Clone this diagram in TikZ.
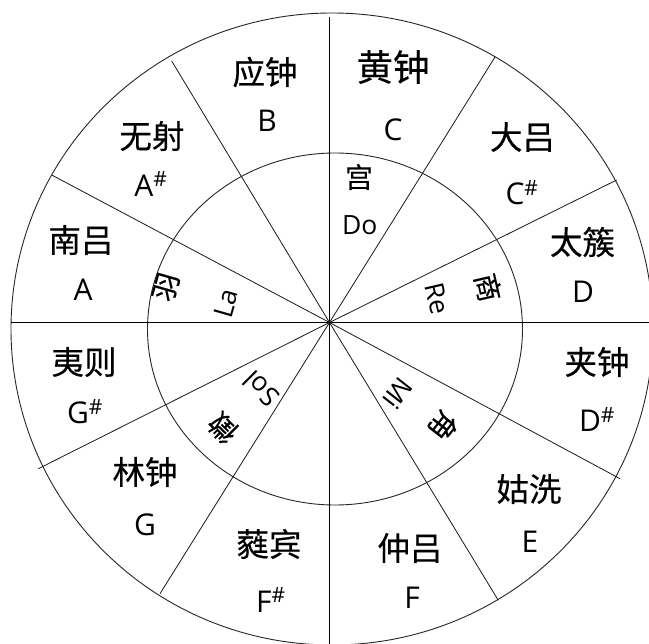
\documentclass[tikz,border=0pt]{standalone}
\usepackage{fontspec}
\setmainfont{Open Sans}
\newfontfamily\cjk{Noto Sans CJK SC}[FakeBold=0.4]
\begin{document}
\begin{tikzpicture}[x=1pt,y=-1pt,
  ring/.style={draw=black!85, line width=0.9pt},
  axis/.style={draw=black, line width=1.2pt},
  spoke/.style={draw=black!90, line width=0.8pt},
  big/.style={inner sep=0pt, font=\cjk\fontsize{32.5}{34}\selectfont},
  huge/.style={inner sep=0pt, font=\cjk\fontsize{36.5}{38}\selectfont},
  note/.style={inner sep=0pt, font=\fontsize{30}{31}\selectfont},
  tone/.style={inner sep=0pt, font=\cjk\fontsize{28}{29}\selectfont},
  solf/.style={inner sep=0pt, font=\fontsize{26.5}{27}\selectfont}]
\newcommand\shp{\textsuperscript{\#}}
\useasboundingbox (0,0) rectangle (649,644);
\clip (0,0) rectangle (649,644);
% centre and ends
\coordinate (O) at (329.5,322.5);
\coordinate (Ot) at (329.5,17);
\coordinate (Ob) at (329.5,644);
\coordinate (Ol) at (11,322.5);
\coordinate (Or) at (649,322.5);
\coordinate (E1) at (495,57);
\coordinate (E2) at (616.7,180);
\coordinate (E3) at (620,478.7);
\coordinate (E4) at (498.3,600.3);
\coordinate (E5) at (160,593.7);
\coordinate (E6) at (38.3,468.7);
\coordinate (E7) at (51.7,175);
\coordinate (E8) at (171.7,61);
% circles
\draw[ring] (332,329) ellipse [x radius=321, y radius=316];
\draw[ring] (335,329) ellipse [x radius=187.5, y radius=176];
% axes
\draw[axis] (Ot) -- (Ob);
\draw[axis] (Ol) -- (Or);
% spokes
\foreach \e in {E1,E2,E3,E4,E5,E6,E7,E8} \draw[spoke] (O) -- (\e);
% outer labels
\node[huge] (hz) at (393,67) {黄钟};
\node[note] (nC) at (393,130) {C};
\node[big] (dl) at (522.5,137) {大吕};
\node[note] (nCs) at (522,193) {C\shp};
\node[big] (tc) at (582.5,242) {太簇};
\node[note] (nD) at (583,292) {D};
\node[big] (jz) at (597,362) {夹钟};
\node[note] (nDs) at (597,419.5) {D\shp};
\node[big] (gx) at (529,489) {姑洗};
\node[note] (nE) at (530,542) {E};
\node[big] (zl) at (410,548) {仲吕};
\node[note] (nF) at (412,598) {F};
\node[big] (rb) at (269,544) {蕤宾};
\node[note] (nFs) at (271,600) {F\shp};
\node[big] (lz) at (145,472) {林钟};
\node[note] (nG) at (145,525) {G};
\node[big] (yz) at (84,362) {夷则};
\node[note] (nGs) at (85,412) {G\shp};
\node[big] (nl) at (81,240) {南吕};
\node[note] (nA) at (83,290) {A};
\node[big] (ws) at (152,136) {无射};
\node[note] (nAs) at (151,184) {A\shp};
\node[big] (yzh) at (265,72) {应钟};
\node[note] (nB) at (267,121) {B};
% inner labels
\node[tone] (gong) at (359,177) {宫};
\node[solf] (do) at (359.7,225) {Do};
\node[tone,rotate=-77] (shang) at (488,287.5) {商};
\node[solf,rotate=-77] (re) at (437,299) {Re};
\node[tone,rotate=-128] (jue) at (443,426) {角};
\node[solf,rotate=-128] (mi) at (398,394) {Mi};
\node[tone,rotate=135] (zhi) at (223,428) {徵};
\node[solf,rotate=135] (sol) at (261,389) {Sol};
\node[tone,rotate=74] (yu) at (166,287) {羽};
\node[solf,rotate=74] (la) at (226,303) {La};
\end{tikzpicture}
\end{document}
